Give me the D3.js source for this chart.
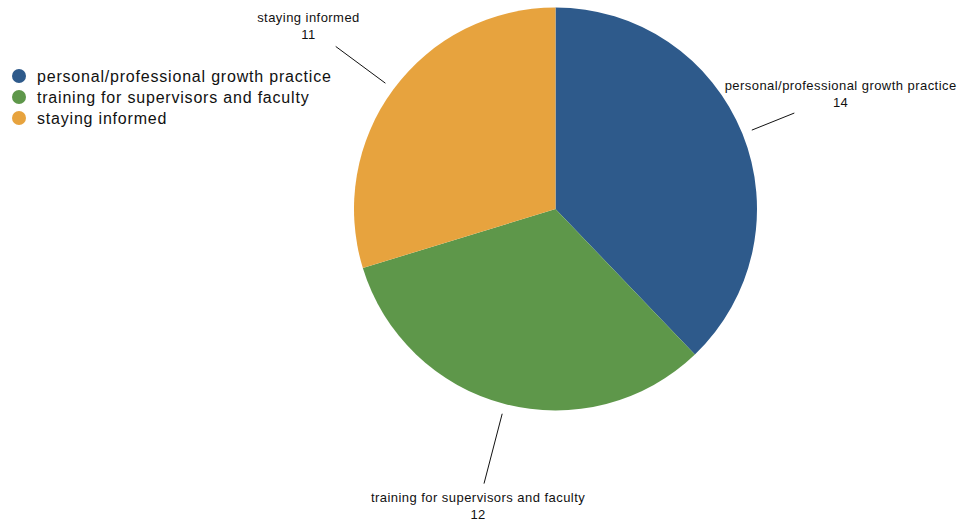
<!DOCTYPE html>
<html>
<head>
<meta charset="utf-8">
<script src="https://cdn.jsdelivr.net/npm/d3@7"></script>
<style>
  body { margin: 0; background: #fff; }
  text { font-family: "Liberation Sans", Arial, Helvetica, sans-serif; fill: #111; }
</style>
</head>
<body>
<div id="canvas"></div>
<script>
"use strict";

// Data
let categories = [
    "personal/professional growth practice",
    "training for supervisors and faculty",
    "staying informed"
];
let values = [14, 12, 11];
let colors = ["#2e5a8b", "#5e974a", "#e7a33e"];

let svgWidth = 961;
let svgHeight = 524;
let cx = 555.5;
let cy = 209;
let radius = 201.5;

let svg = d3.select("#canvas")
    .append("svg")
    .attr("width", svgWidth)
    .attr("height", svgHeight);

let data = categories.map(function(c, i) {
    return { name: c, value: values[i] };
});

let colorScale = d3.scaleOrdinal()
    .domain(categories)
    .range(colors);

let pie = d3.pie()
    .sort(null)
    .value(function(d) { return d.value; });

let arc = d3.arc()
    .innerRadius(0)
    .outerRadius(radius);

let arcs = pie(data);

let g = svg.append("g")
    .attr("transform", "translate(" + cx + "," + cy + ")");

g.selectAll("path.slice")
    .data(arcs)
    .join("path")
    .attr("class", "slice")
    .attr("d", arc)
    .attr("fill", function(d) { return colorScale(d.data.name); });

// Labels: text block centred along mid angle, leader line runs to the text box
let labelRadius = radius * 1.525;
let lineStart = radius * 1.05;
let lineGap = 7;

arcs.forEach(function(d) {
    let mid = (d.startAngle + d.endAngle) / 2;
    let dx = Math.sin(mid);
    let dy = -Math.cos(mid);
    let tx = dx * labelRadius;
    let ty = dy * labelRadius;

    let label = g.append("text")
        .attr("text-anchor", "middle")
        .style("font-size", "13px")
        .style("letter-spacing", "0.45px");
    label.append("tspan")
        .attr("x", tx)
        .attr("y", ty - 4)
        .text(d.data.name);
    label.append("tspan")
        .attr("x", tx)
        .attr("y", ty + 13)
        .text(d.data.value);

    let box = label.node().getBBox();
    let halfW = box.width / 2;
    let halfH = box.height / 2;
    let t = Math.min(
        Math.abs(dx) > 1e-6 ? halfW / Math.abs(dx) : Infinity,
        Math.abs(dy) > 1e-6 ? halfH / Math.abs(dy) : Infinity
    );
    let lineEnd = labelRadius - t - lineGap;

    g.append("line")
        .attr("x1", dx * lineStart)
        .attr("y1", dy * lineStart)
        .attr("x2", dx * lineEnd)
        .attr("y2", dy * lineEnd)
        .attr("stroke", "#111")
        .attr("stroke-width", 1);
});

// Legend
let legend = svg.append("g")
    .attr("transform", "translate(19, 76)");

let legendY = d3.scalePoint()
    .domain(categories)
    .range([0, 42]);

legend.selectAll("circle")
    .data(categories)
    .join("circle")
    .attr("cx", 0)
    .attr("cy", function(d) { return legendY(d); })
    .attr("r", 7)
    .attr("fill", function(d) { return colorScale(d); });

legend.selectAll("text")
    .data(categories)
    .join("text")
    .attr("x", 18)
    .attr("y", function(d) { return legendY(d); })
    .attr("dy", "0.35em")
    .style("font-size", "16px")
    .style("letter-spacing", "0.8px")
    .text(function(d) { return d; });
</script>
</body>
</html>
